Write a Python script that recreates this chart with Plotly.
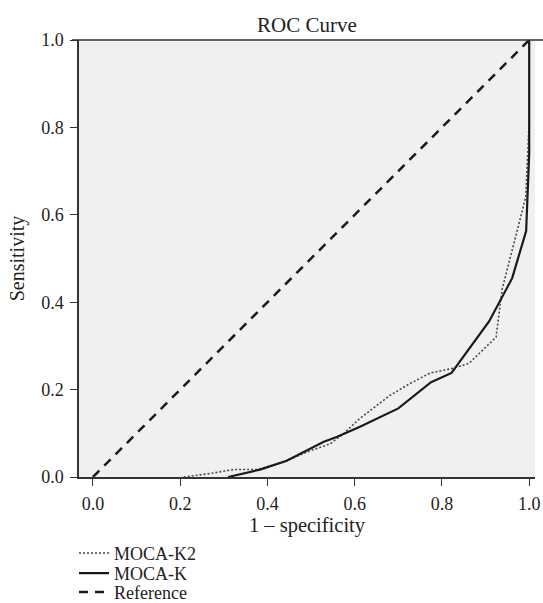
import plotly.graph_objects as go

# MOCA-K2 (dotted)
k2_fpr = [0.208, 0.269, 0.322, 0.376, 0.437, 0.490, 0.544, 0.574, 0.612, 0.681, 0.727,
          0.773, 0.822, 0.862, 0.924, 0.938, 0.992, 1.000, 1.000]
k2_tpr = [0.000, 0.008, 0.017, 0.017, 0.034, 0.057, 0.076, 0.099, 0.134, 0.187, 0.214,
          0.238, 0.248, 0.260, 0.320, 0.430, 0.640, 0.816, 1.000]

# MOCA-K (solid)
k_fpr = [0.310, 0.383, 0.444, 0.490, 0.528, 0.560, 0.612, 0.700, 0.775, 0.822,
         0.908, 0.961, 0.993, 1.000, 1.000]
k_tpr = [0.000, 0.017, 0.037, 0.061, 0.080, 0.092, 0.115, 0.157, 0.217, 0.238,
         0.356, 0.455, 0.563, 0.740, 1.000]

# Reference diagonal
ref_x = [0.0, 1.0]
ref_y = [0.0, 1.0]

tick_vals = [0.0, 0.2, 0.4, 0.6, 0.8, 1.0]
tick_text = ["0.0", "0.2", "0.4", "0.6", "0.8", "1.0"]

FONT = "Liberation Serif"
TXT = "#222"

W, H = 543, 603
L = 78.7
T = 40
R = W - 535
B = H - 476.7
PW, PH = W - L - R, H - T - B


def ypaper(px):
    return (H - B - px) / PH


fig = go.Figure()
fig.add_trace(go.Scatter(x=k2_fpr, y=k2_tpr, mode="lines", name="MOCA-K2",
                         legend="legend",
                         line=dict(color="#4a4a4a", width=1.6, dash="2px,2px")))
fig.add_trace(go.Scatter(x=k_fpr, y=k_tpr, mode="lines", name="MOCA-K",
                         legend="legend2",
                         line=dict(color="#1a1a1a", width=2.2)))
fig.add_trace(go.Scatter(x=ref_x, y=ref_y, mode="lines", name="Reference",
                         legend="legend3",
                         line=dict(color="#1a1a1a", width=2.5, dash="9px,7px")))

leg_common = dict(x=-5 / PW, xanchor="left", yanchor="middle",
                  bgcolor="rgba(0,0,0,0)", borderwidth=0,
                  font=dict(family=FONT, size=18, color=TXT), itemwidth=30)

fig.update_layout(
    width=W, height=H,
    margin=dict(l=L, r=R, t=T, b=B, pad=0, autoexpand=False),
    paper_bgcolor="white",
    plot_bgcolor="#f0f0f0",
    font=dict(family=FONT, size=18, color=TXT),
    title=dict(text="ROC Curve", x=(L + PW / 2) / W, xref="container", xanchor="center",
               y=1 - 25 / H, yref="container", yanchor="middle",
               font=dict(family=FONT, size=21, color=TXT)),
    xaxis=dict(range=[-0.032, 1.0133], tickvals=tick_vals, ticktext=tick_text,
               showgrid=False, zeroline=False, showline=True, linecolor="#333",
               linewidth=1.5, ticks="outside", ticklen=7, tickwidth=1.3,
               tickcolor="#333", tickfont=dict(family=FONT, size=18, color=TXT),
               ticklabelstandoff=3, automargin=False,
               title=dict(text="1 – specificity", standoff=4,
                          font=dict(family=FONT, size=20.5, color=TXT))),
    yaxis=dict(range=[0, 1], tickvals=tick_vals, ticktext=tick_text,
               showgrid=False, zeroline=False, showline=True, linecolor="#333",
               linewidth=1.5, ticks="outside", ticklen=7, tickwidth=1.3,
               tickcolor="#333", tickfont=dict(family=FONT, size=18, color=TXT),
               ticklabelstandoff=3, automargin=False,
               title=dict(text="Sensitivity", standoff=11,
                          font=dict(family=FONT, size=20, color=TXT))),
    legend=dict(y=ypaper(553), **leg_common),
    legend2=dict(y=ypaper(573), **leg_common),
    legend3=dict(y=ypaper(592), **leg_common),
    showlegend=True,
)

# top frame line extending across the figure
fig.add_shape(type="line", xref="paper", yref="paper",
              x0=-7 / PW, x1=(W - L) / PW, y0=1, y1=1,
              line=dict(color="#333", width=1.5))

fig.write_html(
    "out.html",
    config={"displayModeBar": False},
    post_script="document.body.style.margin='0';document.body.style.overflow='hidden';",
)
